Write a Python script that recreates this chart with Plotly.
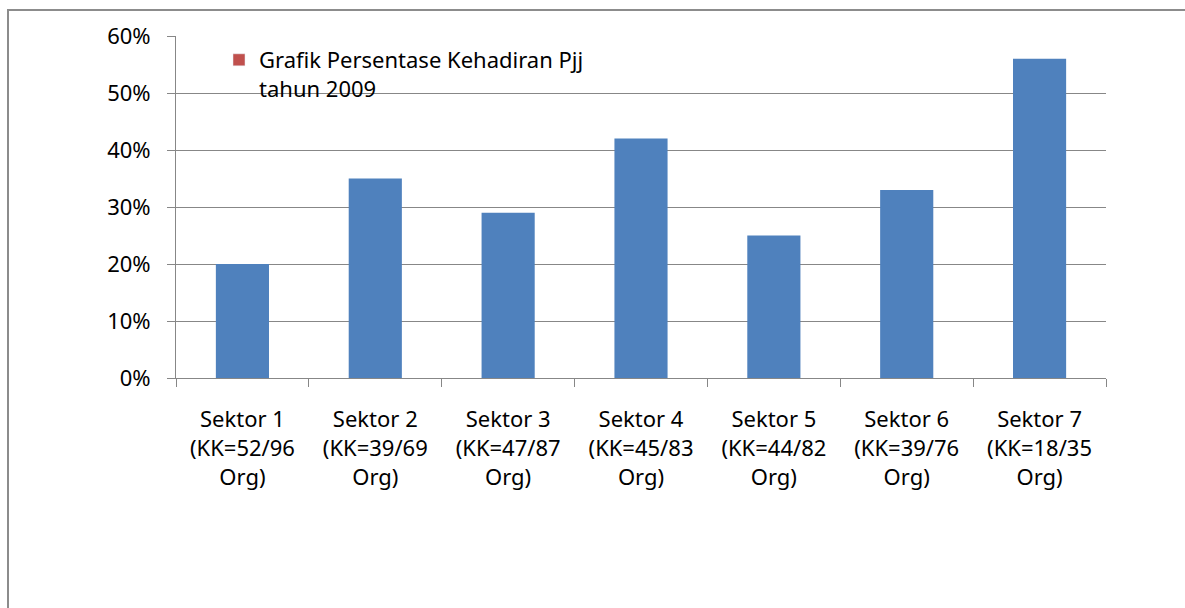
import plotly.graph_objects as go

categories = [
    "Sektor 1<br>(KK=52/96<br>Org)",
    "Sektor 2<br>(KK=39/69<br>Org)",
    "Sektor 3<br>(KK=47/87<br>Org)",
    "Sektor 4<br>(KK=45/83<br>Org)",
    "Sektor 5<br>(KK=44/82<br>Org)",
    "Sektor 6<br>(KK=39/76<br>Org)",
    "Sektor 7<br>(KK=18/35<br>Org)",
]
values = [0.20, 0.35, 0.29, 0.42, 0.25, 0.33, 0.56]
legend_name = "Grafik Persentase Kehadiran Pjj<br>tahun 2009"

W, H = 1185, 608
L, R, T, B = 176, 79, 36, 230
pw, ph = W - L - R, H - T - B

FONT = "Noto Sans"
GRAY = "#878787"
FS = 22

fig = go.Figure()
fig.add_trace(go.Bar(x=categories, y=values, marker=dict(color="#4F81BD", line=dict(width=0)),
                     showlegend=False, name="values"))
fig.add_trace(go.Bar(x=categories, y=[None] * len(categories), marker=dict(color="#C0504D"),
                     name=legend_name, showlegend=True))

# frame
fx = (8 - L) / pw
fy = 1 + (T - 10) / ph
fig.add_shape(type="path", xref="paper", yref="paper",
              path=f"M {fx} -0.8 L {fx} {fy} L 1.2 {fy}",
              line=dict(color="#8c8c8c", width=2))

fig.update_layout(
    width=W, height=H,
    margin=dict(l=L, r=R, t=T, b=B, pad=0),
    paper_bgcolor="white", plot_bgcolor="white",
    barmode="overlay", bargap=0.6,
    font=dict(family=FONT, size=FS, color="black"),
    legend=dict(x=(219 - L) / pw, y=1 - (39 - T) / ph, xanchor="left", yanchor="top",
                bgcolor="rgba(0,0,0,0)", valign="top", font=dict(size=FS),
                tracegroupgap=0),
    xaxis=dict(type="category", showgrid=False, showline=True, linecolor=GRAY, linewidth=1,
               ticks="outside", ticklen=8, tickcolor=GRAY, tickson="boundaries",
               tickfont=dict(size=FS), ticklabelstandoff=22),
    yaxis=dict(range=[0, 0.6], dtick=0.1, tickformat=".0%", showgrid=True, gridcolor=GRAY,
               gridwidth=1, showline=True, linecolor=GRAY, linewidth=1, ticks="outside",
               ticklen=8, tickcolor=GRAY, zeroline=False, tickfont=dict(size=FS),
               ticklabelstandoff=12),
)

fig.write_html("out.html", config={"displayModeBar": False},
               post_script="document.body.style.margin='0px';")
